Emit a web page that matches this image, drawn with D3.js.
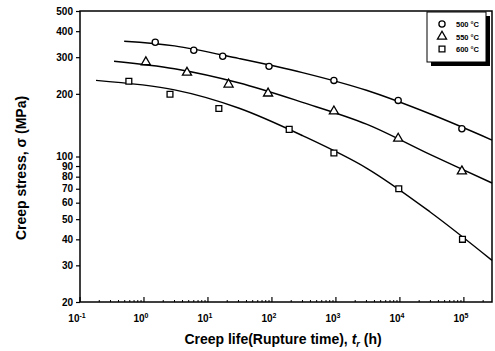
<!DOCTYPE html>
<html>
<head>
<meta charset="utf-8">
<script src="https://cdn.jsdelivr.net/npm/d3@7"></script>
<style>
  body { margin: 0; background: #fff; }
  svg { font-family: "Liberation Sans", Arial, sans-serif; font-weight: bold; }
</style>
</head>
<body>
<svg width="495" height="351"></svg>
<script>
// measured points (rupture time h, stress MPa)
var series = ["500 °C", "550 °C", "600 °C"];
var time500 = [1.5, 6, 17, 90, 930, 9400, 93000];
var stress500 = [354, 324, 303, 271, 232, 186, 136];
var time550 = [1.07, 4.7, 21, 87, 930, 9400, 93000];
var stress550 = [284, 253, 222, 201, 165, 122, 85];
var time600 = [0.58, 2.55, 14.8, 186, 930, 9600, 95000];
var stress600 = [230, 199, 170, 135, 104, 70, 40];

// fitted curves
var fitTime500 = [0.49, 3, 30, 300, 3000, 30000, 275000];
var fitStress500 = [358, 340, 296, 253, 208, 160, 120];
var fitTime550 = [0.34, 3, 30, 300, 3000, 30000, 275000];
var fitStress550 = [287, 264, 226, 182, 143, 102, 74.6];
var fitTime600 = [0.178, 3, 30, 300, 3000, 30000, 275000];
var fitStress600 = [232, 209, 171, 126, 88, 54, 31.7];

var yTickValues = [500, 400, 300, 200, 100, 90, 80, 70, 60, 50, 40, 30, 20];
var xExponents = [-1, 0, 1, 2, 3, 4, 5];

var svg = d3.select("svg");
var margin = { left: 80, right: 3, top: 11, bottom: 49 };
var width = 495 - margin.left - margin.right,
  height = 351 - margin.top - margin.bottom;

var x = d3.scaleLog().domain([0.1, 275000]).range([0, width]);
var y = d3.scaleLog().domain([20, 500]).range([height, 0]);

var g = svg.append("g").attr("transform", "translate(" + margin.left + "," + margin.top + ")");

// frame
g.append("rect")
  .attr("width", width)
  .attr("height", height)
  .attr("fill", "none")
  .attr("stroke", "#000")
  .attr("stroke-width", 1.5);

// y axis
var yAxis = d3.axisLeft(y).tickValues(yTickValues).tickSize(4).tickFormat(d3.format("d"));
var ya = g.append("g").call(yAxis);
ya.select(".domain").remove();
ya.selectAll("line").attr("stroke-width", 1.2);
ya.selectAll("text").attr("font-size", 10).attr("font-weight", "bold").attr("x", -7);

// x axis: major and minor ticks pointing inward
var minor = [];
for (var e = -1; e <= 5; e++) {
  for (var m = 2; m <= 9; m++) {
    if (m * Math.pow(10, e) <= 275000) minor.push(m * Math.pow(10, e));
  }
}
g.append("g")
  .selectAll("line.minor")
  .data(minor)
  .enter()
  .append("line")
  .attr("x1", function (d) { return x(d); })
  .attr("x2", function (d) { return x(d); })
  .attr("y1", height)
  .attr("y2", height - 2)
  .attr("stroke", "#000")
  .attr("stroke-width", 1);

g.append("g")
  .selectAll("line.major")
  .data(xExponents)
  .enter()
  .append("line")
  .attr("x1", function (d) { return x(Math.pow(10, d)); })
  .attr("x2", function (d) { return x(Math.pow(10, d)); })
  .attr("y1", height)
  .attr("y2", height - 5)
  .attr("stroke", "#000")
  .attr("stroke-width", 1.2);

var xl = g.append("g")
  .selectAll("text")
  .data(xExponents)
  .enter()
  .append("text")
  .attr("x", function (d) { return x(Math.pow(10, d)) - 3; })
  .attr("y", height + 20)
  .attr("text-anchor", "middle")
  .attr("font-size", 10);
xl.append("tspan").text("10");
xl.append("tspan")
  .attr("dy", -4)
  .attr("font-size", 7)
  .text(function (d) { return d; });

// axis titles
var xt = svg.append("text")
  .attr("x", margin.left + width / 2 - 3)
  .attr("y", 344)
  .attr("text-anchor", "middle")
  .attr("font-size", 14);
xt.append("tspan").text("Creep life(Rupture time), ");
xt.append("tspan").attr("font-style", "italic").text("t");
xt.append("tspan").attr("font-size", 9).attr("dy", 3).attr("font-style", "italic").text("r");
xt.append("tspan").attr("dy", -3).text(" (h)");

svg.append("text")
  .attr("transform", "translate(26,168) rotate(-90)")
  .attr("text-anchor", "middle")
  .attr("font-size", 14)
  .text("Creep stress, σ (MPa)");

// fitted curves
var fits = [
  { t: fitTime500, s: fitStress500 },
  { t: fitTime550, s: fitStress550 },
  { t: fitTime600, s: fitStress600 },
];
var line = d3.line()
  .x(function (d) { return x(d[0]); })
  .y(function (d) { return y(d[1]); })
  .curve(d3.curveCatmullRom.alpha(0.5));

g.append("g")
  .selectAll("path")
  .data(fits)
  .enter()
  .append("path")
  .attr("d", function (d) { return line(d3.zip(d.t, d.s)); })
  .attr("fill", "none")
  .attr("stroke", "#000")
  .attr("stroke-width", 1.4);

// markers
var symbols = [d3.symbolCircle, d3.symbolTriangle, d3.symbolSquare];
var sizes = [30, 36, 34];
var pts = [
  { t: time500, s: stress500 },
  { t: time550, s: stress550 },
  { t: time600, s: stress600 },
];
pts.forEach(function (p, i) {
  g.append("g")
    .selectAll("path")
    .data(d3.zip(p.t, p.s))
    .enter()
    .append("path")
    .attr("d", d3.symbol().type(symbols[i]).size(sizes[i]))
    .attr("transform", function (d) { return "translate(" + x(d[0]) + "," + y(d[1]) + ")"; })
    .attr("fill", "#fff")
    .attr("stroke", "#000")
    .attr("stroke-width", 1.3);
});

// legend with shadow
var lg = svg.append("g").attr("transform", "translate(427,12)");
lg.append("rect").attr("x", 4).attr("y", 4).attr("width", 59).attr("height", 50).attr("fill", "#000");
lg.append("rect").attr("width", 59).attr("height", 50).attr("fill", "#fff").attr("stroke", "#000").attr("stroke-width", 1);
series.forEach(function (name, i) {
  var ry = 12 + i * 12.5;
  lg.append("path")
    .attr("d", d3.symbol().type(symbols[i]).size(sizes[i]))
    .attr("transform", "translate(15," + ry + ")")
    .attr("fill", "#fff")
    .attr("stroke", "#000")
    .attr("stroke-width", 1.3);
  lg.append("text")
    .attr("x", 29)
    .attr("y", ry + 3)
    .attr("font-size", 7.5)
    .text(name);
});
</script>
</body>
</html>
